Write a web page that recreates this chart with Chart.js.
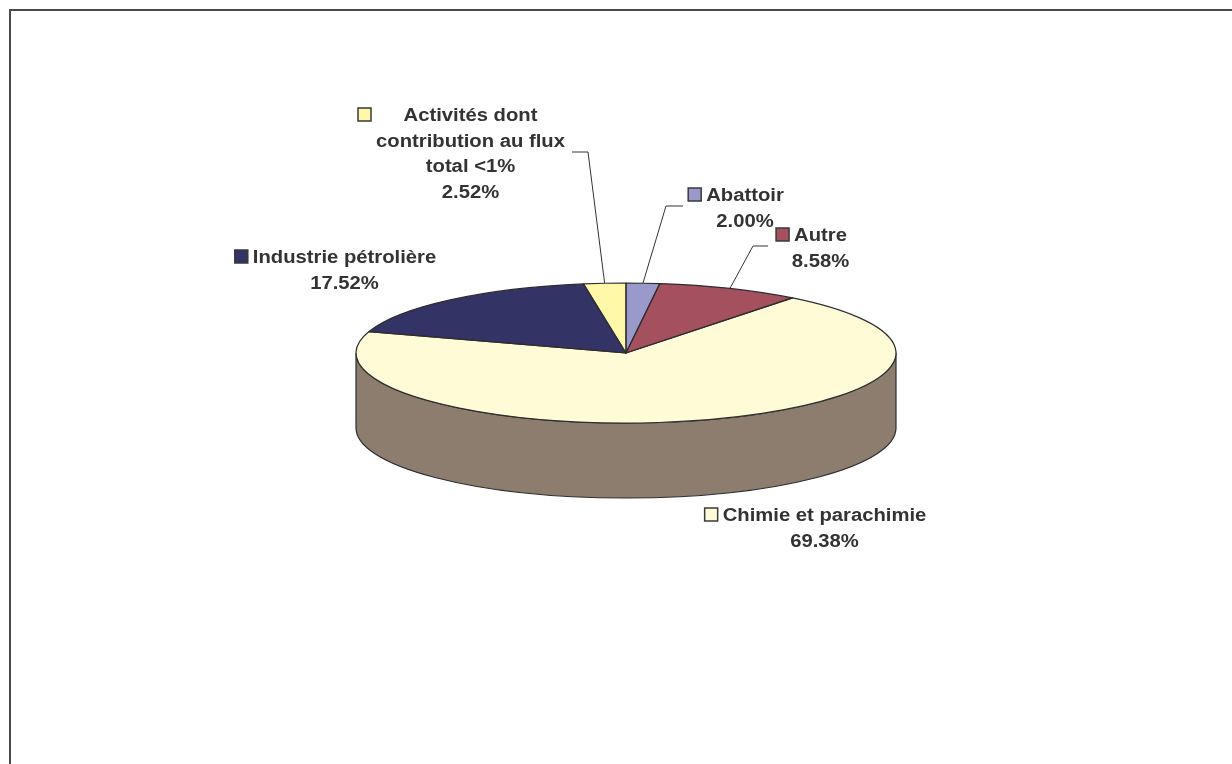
<!DOCTYPE html>
<html><head><meta charset="utf-8">
<script src="https://cdn.jsdelivr.net/npm/chart.js@4.4.0/dist/chart.umd.min.js"></script>
<style>html,body{margin:0;padding:0;background:#fff;overflow:hidden}canvas{display:block}</style>
</head><body>
<canvas id="c" width="1232" height="764"></canvas>
<script>
// ---- data ----
const categories = ["Abattoir", "Autre", "Chimie et parachimie", "Industrie pétrolière", "Activités dont contribution au flux total <1%"];
const shares = [2.00, 8.58, 69.38, 17.52, 2.52];
const labelLines = [["Abattoir"], ["Autre"], ["Chimie et parachimie"], ["Industrie pétrolière"], ["Activités dont", "contribution au flux", "total <1%"]];

// ---- styles ----
const sliceColors = ["#9A99CB", "#A5505F", "#FFFBD6", "#333366", "#FFF8A8"];
const sideColors = ["#6E6E94", "#763A45", "#8C7D6E", "#24244A", "#B8B278"];
const TILT = 70 / 270;
const DEPTH = 75;
const EDGE = "#2e2e2e";
const TEXT = "#333333";
const FONT = "bold 18px 'Liberation Sans', Arial, sans-serif";
const TEXT_SX = 1.125;
const LINE_H = 25.7;
// label anchors: center x of text block, baseline of first line, leader elbow
const labelLayout = [
  { cx: 745, y: 201, elbow: [[683, 206], [666, 206]] },
  { cx: 820.5, y: 241, elbow: [[768, 246], [753, 246]] },
  { cx: 824.5, y: 521, elbow: null },
  { cx: 344.5, y: 263, elbow: null },
  { cx: 470.5, y: 121, elbow: [[572, 152], [588, 152]] }
];

function applyTilt(ctx, x, y) {
  ctx.translate(x, y); ctx.scale(1, TILT); ctx.translate(-x, -y);
}

const pie3d = {
  id: 'pie3d',
  beforeDraw(chart) {
    const ctx = chart.ctx;
    ctx.save();
    ctx.strokeStyle = '#4a4a4a';
    ctx.lineWidth = 2;
    ctx.strokeRect(10, 10, 1260, 800);
    ctx.restore();
  },
  beforeDatasetsDraw(chart) {
    const ctx = chart.ctx;
    const arcs = chart.getDatasetMeta(0).data;
    const p0 = arcs[0].getProps(['x', 'y', 'outerRadius']);
    const x = p0.x, y = p0.y, r = p0.outerRadius, ry = r * TILT;
    ctx.save();
    arcs.forEach((a, i) => {
      const p = a.getProps(['startAngle', 'endAngle']);
      const a1 = Math.max(p.startAngle, 0), a2 = Math.min(p.endAngle, Math.PI);
      if (a2 <= a1) return;
      ctx.beginPath();
      ctx.ellipse(x, y, r, ry, 0, a1, a2, false);
      ctx.ellipse(x, y + DEPTH, r, ry, 0, a2, a1, true);
      ctx.closePath();
      ctx.fillStyle = sideColors[i];
      ctx.fill();
      ctx.strokeStyle = EDGE; ctx.lineWidth = 1.2;
      ctx.stroke();
    });
    ctx.restore();
    ctx.save();
    applyTilt(ctx, x, y);
  },
  afterDatasetsDraw(chart) {
    const ctx = chart.ctx;
    ctx.restore();
    const arcs = chart.getDatasetMeta(0).data;
    // outlines of top faces
    arcs.forEach((a) => {
      const p = a.getProps(['x', 'y', 'startAngle', 'endAngle', 'outerRadius']);
      ctx.save();
      applyTilt(ctx, p.x, p.y);
      ctx.beginPath();
      ctx.moveTo(p.x, p.y);
      ctx.arc(p.x, p.y, p.outerRadius, p.startAngle, p.endAngle);
      ctx.closePath();
      ctx.restore();
      ctx.save();
      ctx.strokeStyle = EDGE; ctx.lineWidth = 1.2; ctx.lineJoin = 'round';
      ctx.stroke();
      ctx.restore();
    });
    // labels
    ctx.save();
    ctx.font = FONT;
    ctx.fillStyle = TEXT;
    ctx.textBaseline = 'alphabetic';
    arcs.forEach((a, i) => {
      const p = a.getProps(['x', 'y', 'startAngle', 'endAngle', 'outerRadius']);
      const L = labelLayout[i];
      const lines = labelLines[i].concat([shares[i].toFixed(2) + '%']);
      let minLeft = Infinity;
      lines.forEach((t, k) => {
        const w = ctx.measureText(t).width * TEXT_SX;
        const left = L.cx - w / 2;
        if (k < lines.length - 1 || lines.length === 1) minLeft = Math.min(minLeft, left);
        ctx.save();
        ctx.translate(left, L.y + k * LINE_H);
        ctx.scale(TEXT_SX, 1);
        ctx.fillText(t, 0, 0);
        ctx.restore();
      });
      // legend key square
      const sz = 13;
      const sx = minLeft - 5 - sz, sy = L.y - sz;
      ctx.fillStyle = sliceColors[i];
      ctx.fillRect(sx, sy, sz, sz);
      ctx.strokeStyle = '#3a3a3a'; ctx.lineWidth = 1.5;
      ctx.strokeRect(sx, sy, sz, sz);
      ctx.fillStyle = TEXT;
      // leader line to slice mid-angle on the rim
      if (L.elbow) {
        const mid = (p.startAngle + p.endAngle) / 2;
        const ex = p.x + p.outerRadius * Math.cos(mid);
        const ey = p.y + p.outerRadius * TILT * Math.sin(mid);
        ctx.beginPath();
        ctx.moveTo(L.elbow[0][0], L.elbow[0][1]);
        ctx.lineTo(L.elbow[1][0], L.elbow[1][1]);
        ctx.lineTo(ex, ey);
        ctx.strokeStyle = '#333'; ctx.lineWidth = 1;
        ctx.stroke();
      }
    });
    ctx.restore();
  }
};

new Chart(document.getElementById('c'), {
  type: 'pie',
  data: {
    labels: categories,
    datasets: [{
      data: shares,
      backgroundColor: sliceColors,
      borderWidth: 0,
      clip: false
    }]
  },
  options: {
    responsive: false,
    animation: false,
    events: [],
    rotation: 0,
    layout: { padding: { left: 356, right: 336, top: 83, bottom: 141 } },
    plugins: { legend: { display: false }, tooltip: { enabled: false } }
  },
  plugins: [pie3d]
});
</script>
</body></html>
